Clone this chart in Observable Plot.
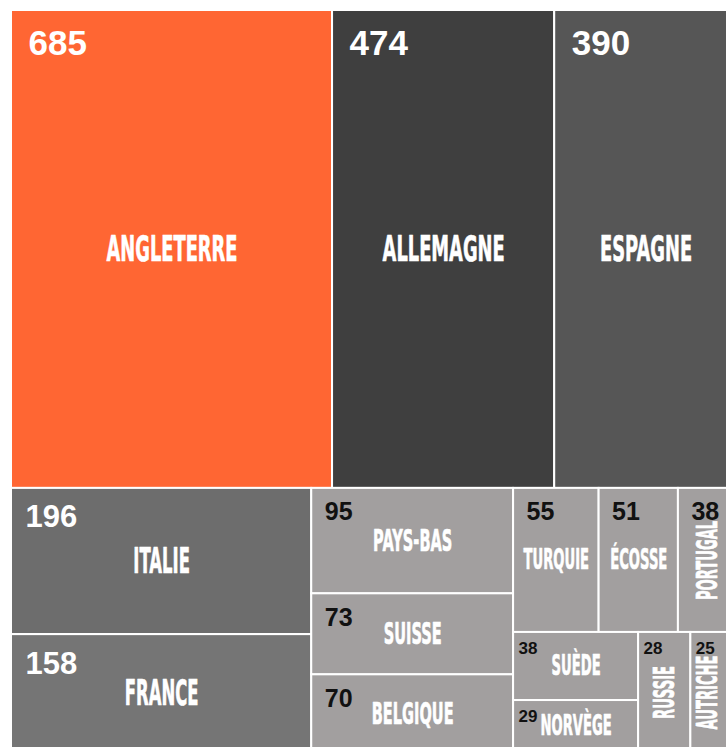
<!DOCTYPE html>
<html><head><meta charset="utf-8">
<script src="https://cdn.jsdelivr.net/npm/d3@7"></script>
<script src="https://cdn.jsdelivr.net/npm/@observablehq/plot@0.6"></script>
<style>html,body{margin:0;padding:0;background:#fff;overflow:hidden}svg{display:block}</style>
</head><body><div id="chart"></div>
<script>
const countries = ["Angleterre","Allemagne","Espagne","Italie","France","Pays-Bas","Suisse","Belgique","Turquie","Écosse","Portugal","Suède","Norvège","Russie","Autriche"];
const names = ["ANGLETERRE","ALLEMAGNE","ESPAGNE","ITALIE","FRANCE","PAYS-BAS","SUISSE","BELGIQUE","TURQUIE","ÉCOSSE","PORTUGAL","SUÈDE","NORVÈGE","RUSSIE","AUTRICHE"];
const values = [685,474,390,196,158,95,73,70,55,51,38,38,29,28,25];

const palette = {"Angleterre":"#ff6633","Allemagne":"#3f3f3f","Espagne":"#565656","Italie":"#6d6d6d","France":"#757575"};
const lightGray = "#a29f9f";

const W = 726, H = 747;
const visibleRight = W - 11; // right edge of the visible area, in layout units
const root = d3.hierarchy({children: countries.map((c,i)=>({country:c, label:names[i], v:values[i]}))})
  .sum(d => d.v || 0)
  .sort((a,b) => b.value - a.value);
d3.treemap().tile(d3.treemapSquarify).size([726, 742]).round(false)(root);
const cells = root.leaves().map(l => ({
  country: l.data.country, label: l.data.label, value: l.data.v,
  x0: l.x0, x1: l.x1, y0: l.y0, y1: l.y1, w: l.x1 - l.x0, h: l.y1 - l.y0
}));

function small(d){ return d.h < 70 || (d.w < 56 && d.h < 130); }
function vertical(d){ return d.w < 62; }
function tier(d){ if (small(d)) return "D"; if (d.value >= 300) return "A"; if (d.value >= 150) return "B"; return "C"; }
const numStyle = {A:{size:35,dx:17,dy:20,fill:"#fff"}, B:{size:31,dx:14,dy:17,fill:"#fff"}, C:{size:25,dx:13,dy:14,fill:"#111"}, D:{size:17,dx:5,dy:9,fill:"#111"}};
function nameSize(d){ return d.value >= 150 ? 35 : d.value >= 60 ? 31 : 28; }
function nameScale(d){ return d.value >= 300 ? 0.51 : 0.47; }
function nameX(d){ const c = (d.x0 + d.x1) / 2; return vertical(d) ? Math.min(c, visibleRight - 18) : c; }

const chart = Plot.plot({
  width: W, height: H,
  marginTop: 0, marginRight: 0, marginBottom: 0, marginLeft: 0,
  x: {domain: [-11, W - 11], axis: null},
  y: {domain: [-10, H - 10], reverse: true, axis: null},
  color: {type: "identity"},
  marks: [
    Plot.rect(cells, {x1: "x0", x2: "x1", y1: "y0", y2: "y1",
      fill: d => palette[d.country] || lightGray, stroke: "white", strokeWidth: 2}),
    Plot.text(cells, {
      x: d => d.x0 + numStyle[tier(d)].dx, y: d => d.y0 + numStyle[tier(d)].dy,
      text: d => String(d.value), textAnchor: "start", lineAnchor: "top",
      fontSize: d => numStyle[tier(d)].size, fill: d => numStyle[tier(d)].fill,
      fontWeight: "bold", fontFamily: "'Liberation Sans', Arial, sans-serif"
    }),
    Plot.text(cells, {
      x: nameX, y: d => (d.y0 + d.y1) / 2,
      text: "label", rotate: d => vertical(d) ? -90 : 0,
      fontSize: d => nameSize(d), fill: "white", stroke: "white", strokeWidth: 0.7,
      fontWeight: "bold", fontFamily: "'DejaVu Sans', sans-serif"
    })
  ]
});
document.getElementById("chart").appendChild(chart);
const textGroups = chart.querySelectorAll('g[aria-label="text"]');
const nameGroup = textGroups[textGroups.length - 1];
nameGroup.querySelectorAll("text").forEach(function(el){
  const i = el.__data__;
  const s = (typeof i === "number" && cells[i]) ? nameScale(cells[i]) : 0.48;
  const t = el.getAttribute("transform");
  if (t) el.setAttribute("transform", t + ` scale(${s},1)`);
  else {
    const x = el.getAttribute("x") || 0, y = el.getAttribute("y") || 0;
    el.removeAttribute("x"); el.removeAttribute("y");
    el.setAttribute("transform", `translate(${x},${y}) scale(${s},1)`);
  }
});
</script>
</body></html>
